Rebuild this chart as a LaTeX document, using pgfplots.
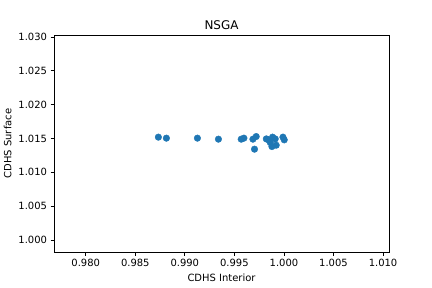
\documentclass[border=0pt]{standalone}
\usepackage{pgfplots}
\pgfplotsset{compat=1.18}
\usepackage{fontspec}
\setmainfont{DejaVu Sans}
\definecolor{mplblue}{HTML}{1F77B4}
\begin{document}
\begin{tikzpicture}
\useasboundingbox (0,0) rectangle (432bp,288bp);
\begin{axis}[
  at={(54bp,36bp)}, anchor=south west,
  scale only axis, width=335bp, height=217bp,
  xmin=0.97680, xmax=1.01060,
  ymin=0.99822, ymax=1.03030,
  xtick={0.980,0.985,0.990,0.995,1.000,1.005,1.010},
  ytick={1.000,1.005,1.010,1.015,1.020,1.025,1.030},
  /pgf/number format/assume math mode=true,
  xticklabel style={/pgf/number format/.cd,fixed,fixed zerofill,precision=3},
  yticklabel style={/pgf/number format/.cd,fixed,fixed zerofill,precision=3},
  scaled ticks=false,
  tick align=outside, tick pos=left,
  major tick length=3.5bp,
  tick style={black, line width=0.8bp},
  axis line style={line width=0.8bp},
  every tick label/.append style={font=\fontsize{10}{12}\selectfont},
  title={NSGA},
  title style={font=\fontsize{12}{14}\selectfont, at={(axis description cs:0.5,1)}, anchor=base},
  xlabel={CDHS Interior}, ylabel={CDHS Surface},
  label style={font=\fontsize{10}{12}\selectfont},
  xlabel style={at={(axis description cs:0.5,0)}, anchor=base, yshift=-29bp},
]
\addplot[only marks, mark=*, mark size=3.3bp, color=mplblue] coordinates {
(0.98733,1.01520)
(0.98814,1.01505)
(0.99127,1.01505)
(0.99339,1.01490)
(0.99569,1.01490)
(0.99596,1.01505)
(0.99687,1.01490)
(0.99720,1.01529)
(0.99703,1.01342)
(0.99822,1.01494)
(0.99844,1.01480)
(0.99885,1.01520)
(0.99862,1.01440)
(0.99879,1.01381)
(0.99912,1.01494)
(0.99922,1.01401)
(0.99990,1.01520)
(1.00003,1.01480)
};
\end{axis}
\end{tikzpicture}
\end{document}
